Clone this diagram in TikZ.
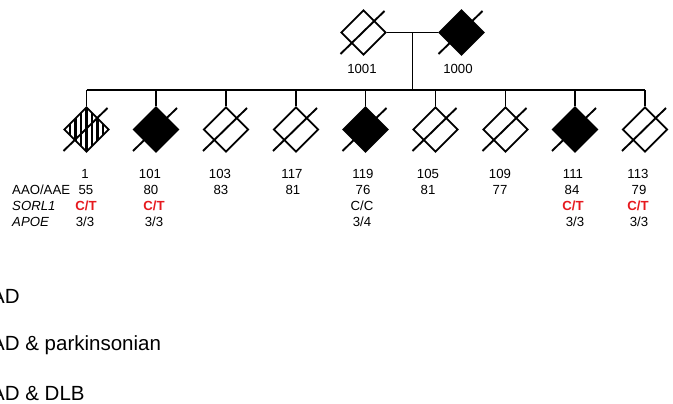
\documentclass[tikz,border=0pt]{standalone}
\usepackage{fontspec}
\setmainfont{Liberation Sans}
\usetikzlibrary{shapes.geometric,calc}
\definecolor{snpred}{RGB}{230,25,30}
\tikzset{
 ped/.style={draw, shape=diamond, minimum width=45pt, minimum height=45pt, inner sep=0pt, line width=1.9pt, shape aspect=1},
 aff/.style={ped, fill=black},
 unaff/.style={ped, fill=white},
 hatched/.style={ped, fill=white, path picture={
   \foreach \hx in {-22,-16.5,...,22.5}
     \draw[line width=2.2pt] ([xshift=\hx pt]path picture bounding box.north) -- ([xshift=\hx pt]path picture bounding box.south);}},
 conn/.style={line width=1.9pt},
 txt/.style={font=\fontsize{13.2}{15}\selectfont, inner sep=0pt, anchor=base},
 itxt/.style={font=\fontsize{13.2}{15}\selectfont\itshape, inner sep=0pt, anchor=base west},
 rowlab/.style={font=\fontsize{13.2}{15}\selectfont, inner sep=0pt, anchor=base west},
 redtxt/.style={txt, text=snpred, font=\fontsize{13.2}{15}\selectfont\bfseries},
 legtxt/.style={font=\fontsize{20.5}{24}\selectfont, inner sep=0pt, anchor=base west},
}
\newcommand\pedslash[1]{\draw[conn] ([shift={(-23,21.5)}]#1.center) -- ([shift={(21,-21.5)}]#1.center);}
\begin{document}
\begin{tikzpicture}[x=1pt,y=-1pt]
\useasboundingbox (0,0) rectangle (673,404);
\clip (0,0) rectangle (673,404);
% parents
\node[unaff] (p1) at (363.5,32.5) {};
\node[aff] (p2) at (461.5,32.5) {};
\pedslash{p1}
\pedslash{p2}
\coordinate (m) at ($(p1.east)!0.5!(p2.west)$);
\coordinate (sib) at (412,90);
\draw[conn] (p1.east) -- (p2.west);
\draw[conn] (m) -- (m |- sib);
\node[txt] (l1001) at (362,74) {1001};
\node[txt] (l1000) at (458,74) {1000};
% children
\node[hatched] (c1) at (86.5,129.5) {};
\node[aff] (c2) at (156,129.5) {};
\node[unaff] (c3) at (226,129.5) {};
\node[unaff] (c4) at (296,129.5) {};
\node[aff] (c5) at (365.5,129.5) {};
\node[unaff] (c6) at (435.5,129.5) {};
\node[unaff] (c7) at (505.5,129.5) {};
\node[aff] (c8) at (575,129.5) {};
\node[unaff] (c9) at (645,129.5) {};
\foreach \c in {c1,c2,c3,c4,c5,c6,c7,c8,c9}{
  \pedslash{\c}
  \draw[conn] (\c.north) -- (\c.north |- sib);
}
\draw[conn] (c1.north |- sib) -- (c9.north |- sib);
% ids
\node[txt] (i1) at (85,178.5) {1};
\node[txt] (i2) at (150,178.5) {101};
\node[txt] (i3) at (220,178.5) {103};
\node[txt] (i4) at (292,178.5) {117};
\node[txt] (i5) at (363,178.5) {119};
\node[txt] (i6) at (428,178.5) {105};
\node[txt] (i7) at (500,178.5) {109};
\node[txt] (i8) at (573,178.5) {111};
\node[txt] (i9) at (638,178.5) {113};
% row labels
\node[rowlab] (raao) at (12,194.5) {AAO/AAE};
\node[itxt] (rsorl) at (12,210) {SORL1};
\node[itxt] (rapoe) at (12,226) {APOE};
% ages
\node[txt] (a1) at (86,194.5) {55};
\node[txt] (a2) at (151,194.5) {80};
\node[txt] (a3) at (221,194.5) {83};
\node[txt] (a4) at (293,194.5) {81};
\node[txt] (a5) at (363,194.5) {76};
\node[txt] (a6) at (428,194.5) {81};
\node[txt] (a7) at (500,194.5) {77};
\node[txt] (a8) at (572,194.5) {84};
\node[txt] (a9) at (639,194.5) {79};
% SORL1
\node[redtxt] (s1) at (86,210) {C/T};
\node[redtxt] (s2) at (154,210) {C/T};
\node[txt] (s5) at (362,210) {C/C};
\node[redtxt] (s8) at (573,210) {C/T};
\node[redtxt] (s9) at (638,210) {C/T};
% APOE
\node[txt] (e1) at (85,226) {3/3};
\node[txt] (e2) at (154,226) {3/3};
\node[txt] (e5) at (362,226) {3/4};
\node[txt] (e8) at (575,226) {3/3};
\node[txt] (e9) at (639,226) {3/3};
% legend
\node[legtxt] (g1) at (-9,303) {AD};
\node[legtxt] (g2) at (-9,350) {AD \& parkinsonian};
\node[legtxt] (g3) at (-9,400) {AD \& DLB};
\end{tikzpicture}
\end{document}
